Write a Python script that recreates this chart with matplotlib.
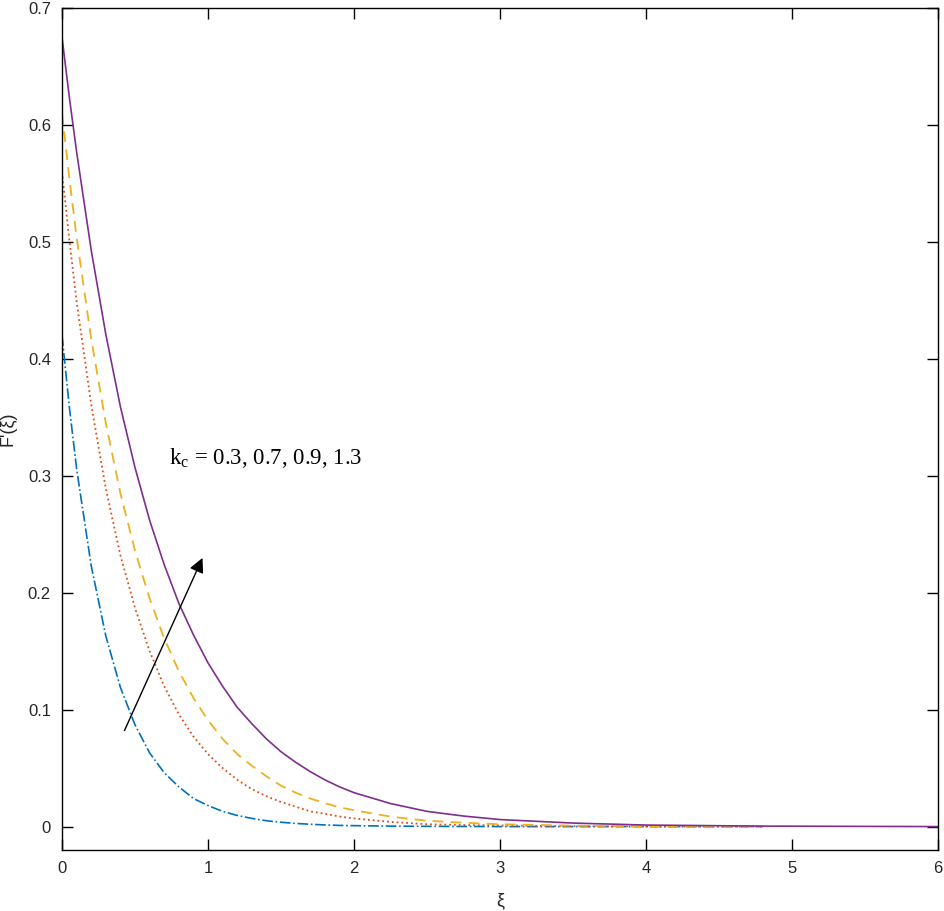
import numpy as np
import matplotlib
matplotlib.use('Agg')
from matplotlib import pyplot as plt

# values
xi = [0, 0.05, 0.1, 0.2, 0.3, 0.4, 0.5, 0.6, 0.7, 0.8, 0.9, 1.0,
      1.1, 1.2, 1.3, 1.4, 1.5, 1.6, 1.7, 1.8, 1.9, 2.0,
      2.25, 2.5, 2.75, 3.0, 3.5, 4.0, 4.8]
F_k03 = [0.420, 0.359, 0.306, 0.223, 0.163, 0.119, 0.087, 0.063, 0.046, 0.034, 0.024, 0.018,
         0.013, 0.0095, 0.007, 0.005, 0.0037, 0.0027, 0.002, 0.0014, 0.001, 0.0008,
         0.0004, 0.0002, 0.0001, 0.0, 0.0, 0.0, 0.0]
F_k07 = [0.560, 0.502, 0.449, 0.361, 0.289, 0.232, 0.187, 0.150, 0.120, 0.096, 0.077, 0.062,
         0.050, 0.040, 0.032, 0.026, 0.021, 0.017, 0.013, 0.011, 0.0086, 0.007,
         0.004, 0.002, 0.0013, 0.001, 0.0003, 0.0001, 0.0]
F_k09 = [0.610, 0.555, 0.504, 0.417, 0.345, 0.285, 0.236, 0.195, 0.161, 0.133, 0.110, 0.091,
         0.075, 0.062, 0.052, 0.043, 0.035, 0.029, 0.024, 0.020, 0.0165, 0.014,
         0.0085, 0.005, 0.0033, 0.002, 0.0008, 0.0003, 0.0]
xi_13 = xi + [6.0]
F_k13 = [0.675, 0.624, 0.577, 0.493, 0.421, 0.359, 0.307, 0.262, 0.224, 0.191, 0.164, 0.140,
         0.120, 0.102, 0.088, 0.075, 0.064, 0.055, 0.047, 0.040, 0.034, 0.029,
         0.0197, 0.013, 0.009, 0.006, 0.003, 0.0013, 0.0004, 0.0]

xticks = [0, 1, 2, 3, 4, 5, 6]
yticks = [0, 0.1, 0.2, 0.3, 0.4, 0.5, 0.6, 0.7]

plt.rcParams['font.family'] = ['Liberation Sans', 'DejaVu Sans']
plt.rcParams['mathtext.fontset'] = 'custom'
plt.rcParams['mathtext.rm'] = 'Liberation Serif'
plt.rcParams['mathtext.it'] = 'Liberation Serif:italic'

fig = plt.figure(figsize=(9.44, 9.11), dpi=100)
ax = fig.add_axes([0.0657, 0.067, 0.928, 0.924])

ax.plot(xi, F_k03, color='#0072BD', ls='-.', lw=1.2)
ax.plot(xi, F_k07, color='#D95319', ls=':', lw=1.3)
ax.plot(xi, F_k09, color='#EDB120', ls='--', lw=1.3, dashes=(6, 4))
ax.plot(xi_13, F_k13, color='#7E2F8E', ls='-', lw=1.2)

ax.set_xlim(0, 6)
ax.set_ylim(-0.02, 0.7)
ax.set_xticks(xticks)
ax.set_yticks(yticks)
ax.set_xticklabels([str(t) for t in xticks])
ax.set_yticklabels(['0'] + ['%.1f' % t for t in yticks[1:]])
ax.tick_params(direction='in', top=True, right=True, length=8, width=1,
               labelsize=12, pad=8, labelcolor='#262626')
for s in ax.spines.values():
    s.set_linewidth(1)

ax.set_xlabel('ξ', fontsize=13, labelpad=12, color='#262626')
ax.set_ylabel("F'(ξ)", fontsize=13, labelpad=8, color='#262626')

ax.annotate('', xy=(0.97, 0.232), xytext=(0.42, 0.08),
            arrowprops=dict(arrowstyle='-|>', color='black', lw=1,
                            mutation_scale=22))
ax.text(0.73, 0.315, r'k$_\mathrm{c}$ = 0.3, 0.7, 0.9, 1.3',
        family='Liberation Serif', fontsize=16.5, va='center', ha='left')

fig.savefig('out.png', dpi=100)
